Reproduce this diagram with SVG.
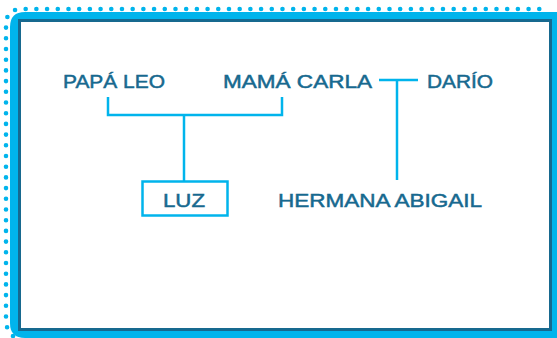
<svg xmlns="http://www.w3.org/2000/svg" width="557" height="338" viewBox="0 0 557 338">
<style>
.t{font-family:"Liberation Sans",Arial,sans-serif;font-size:19px;fill:#17698f;stroke:#17698f;stroke-width:0.5;}
.c{fill:none;stroke:#00b4ec;stroke-width:2.5;}
</style>
<g id="frame">
<path d="M13 336 Q6 330 6 320 L6 25 Q6 9 22 9 L548 9" fill="none" stroke="#00b4ec" stroke-width="4.6" stroke-linecap="round" stroke-dasharray="0 10.7"/>
<path d="M25 12 L557 12 L557 338 L25 338 Q10 338 10 323 L10 27 Q10 12 25 12 Z" fill="#00b4ec"/>
<rect x="19.5" y="20.5" width="531" height="309" fill="#ffffff" stroke="#17698f" stroke-width="3"/>
</g>
<g id="connectors">
<path class="c" d="M108 97 V115 H282 V97"/>
<path class="c" d="M184 115 V181"/>
<path class="c" d="M379 80 H418"/>
<path class="c" d="M397 80 V180"/>
</g>
<g id="papa-leo"><text class="t" x="63" y="88" textLength="102" lengthAdjust="spacingAndGlyphs">PAPÁ LEO</text></g>
<g id="mama-carla"><text class="t" x="223" y="88" textLength="149" lengthAdjust="spacingAndGlyphs">MAMÁ CARLA</text></g>
<g id="dario"><text class="t" x="427" y="88" textLength="66" lengthAdjust="spacingAndGlyphs">DARÍO</text></g>
<g id="luz">
<rect x="142.5" y="181.5" width="85" height="34" fill="#ffffff" stroke="#00b4ec" stroke-width="2.5"/>
<text class="t" x="163" y="207" textLength="42" lengthAdjust="spacingAndGlyphs">LUZ</text>
</g>
<g id="hermana-abigail"><text class="t" x="278" y="207" textLength="204" lengthAdjust="spacingAndGlyphs">HERMANA ABIGAIL</text></g>
</svg>
